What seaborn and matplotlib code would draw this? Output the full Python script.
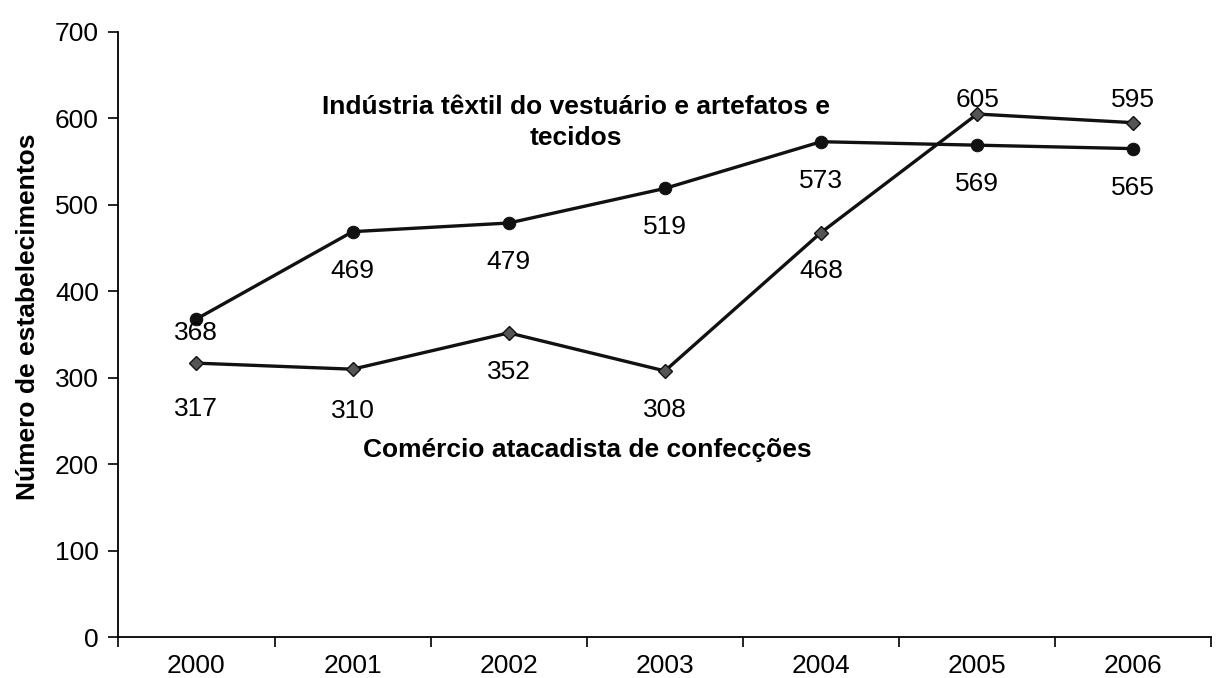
import matplotlib
matplotlib.use("Agg")
import matplotlib.pyplot as plt
import seaborn as sns
import pandas as pd
import numpy as np

sns.set_theme(style="white")
plt.rcParams['font.family'] = ['Liberation Sans', 'DejaVu Sans']
plt.rcParams['text.color'] = 'black'

anos = ["2000", "2001", "2002", "2003", "2004", "2005", "2006"]
industria = [368, 469, 479, 519, 573, 569, 565]
comercio = [317, 310, 352, 308, 468, 605, 595]

serie_ind = "Indústria têxtil do vestuário e artefatos e\ntecidos"
serie_com = "Comércio atacadista de confecções"

df = pd.DataFrame({
    "pos": list(range(len(anos))) * 2,
    "valor": industria + comercio,
    "serie": [serie_ind] * len(anos) + [serie_com] * len(anos),
})

FS = 19

fig = plt.figure(figsize=(12.2, 6.78), dpi=100)
ax = fig.add_axes([0.097, 0.06, 0.896, 0.893])

sns.lineplot(data=df[df.serie == serie_ind], x="pos", y="valor", ax=ax,
             color="#111111", lw=2.4, marker="o", markersize=9,
             markerfacecolor="#111111", markeredgecolor="#111111", legend=False)
sns.lineplot(data=df[df.serie == serie_com], x="pos", y="valor", ax=ax,
             color="#111111", lw=2.4, marker="D", markersize=7.5,
             markerfacecolor="#555555", markeredgecolor="#111111",
             markeredgewidth=1.0, legend=False)

# value labels (offsets in points)
off_ind = [-10, -28, -28, -28, -28, -28, -28]
off_com = [-33, -30, -28, -28, -28, 10, 16]
for i, v in enumerate(industria):
    ax.annotate(str(v), (i, v), xytext=(0, off_ind[i]), textcoords="offset points",
                ha="center", va="center", fontsize=FS, color="black")
for i, v in enumerate(comercio):
    ax.annotate(str(v), (i, v), xytext=(0, off_com[i]), textcoords="offset points",
                ha="center", va="center", fontsize=FS, color="black")

ax.text(2.43, 595, serie_ind, ha="center", va="center", fontsize=FS,
        fontweight="bold", linespacing=1.35, color="black")
ax.text(2.5, 216, serie_com, ha="center", va="center", fontsize=FS,
        fontweight="bold", color="black")

ax.set_xlim(-0.5, len(anos) - 0.5)
ax.set_ylim(0, 700)
ax.set_yticks(np.arange(0, 701, 100))
ax.set_xticks(range(len(anos)))
ax.set_xticklabels(anos)
ax.set_xticks(np.arange(-0.5, len(anos), 1.0), minor=True)
ax.tick_params(axis="x", which="major", length=0, labelsize=FS, pad=12,
               labelcolor="black")
ax.tick_params(axis="x", which="minor", length=7, width=1.2, color="black",
               direction="out", bottom=True)
ax.tick_params(axis="y", length=7, width=1.2, color="black", direction="out",
               left=True, labelsize=FS, pad=7, labelcolor="black")
ax.set_xlabel("")
ax.set_ylabel("Número de estabelecimentos", fontsize=FS, fontweight="bold",
              color="black")
ax.yaxis.set_label_coords(-0.072, 0.529)

for s in ["top", "right"]:
    ax.spines[s].set_visible(False)
for s in ["left", "bottom"]:
    ax.spines[s].set_color("black")
    ax.spines[s].set_linewidth(1.3)

fig.savefig("out.png", dpi=100, facecolor="white")
